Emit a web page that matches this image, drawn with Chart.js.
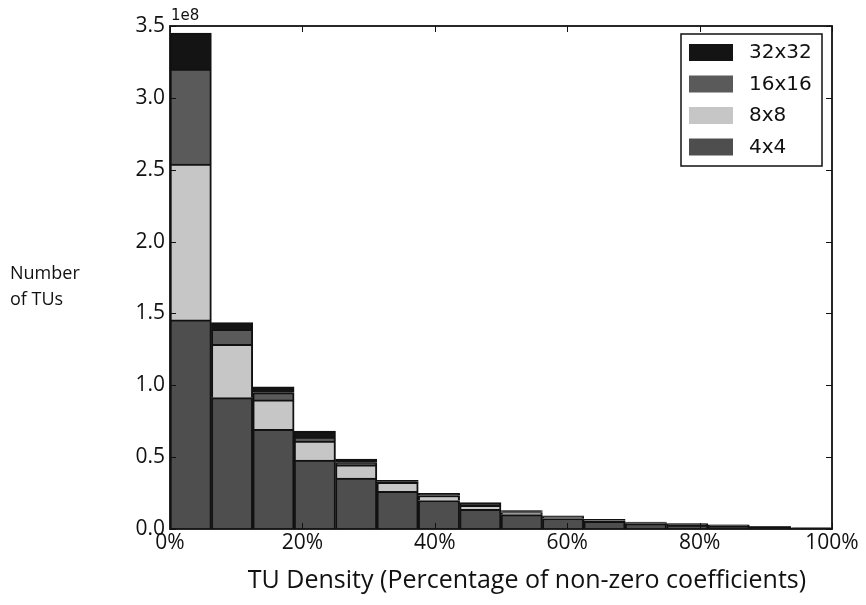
<!DOCTYPE html>
<html>
<head>
<meta charset="utf-8">
<script src="https://cdn.jsdelivr.net/npm/chart.js@4.4.0/dist/chart.umd.min.js"></script>
<style>
  html, body { margin: 0; padding: 0; background: #fff; }
  #wrap { width: 866px; height: 605px; position: relative; }
</style>
</head>
<body>
<div id="wrap"><canvas id="chart"></canvas></div>
<script>
// 16 bins of 6.25% TU density, centres in percent
const binCenters = [3.125, 9.375, 15.625, 21.875, 28.125, 34.375, 40.625, 46.875,
                    53.125, 59.375, 65.625, 71.875, 78.125, 84.375, 90.625, 96.875];

// number of TUs per bin, units of 1e8
const tu4x4   = [1.455, 0.914, 0.694, 0.480, 0.355, 0.262, 0.198, 0.137, 0.100, 0.073, 0.053, 0.037, 0.026, 0.018, 0.011, 0.005];
const tu8x8   = [1.085, 0.371, 0.204, 0.132, 0.092, 0.062, 0.035, 0.028, 0.015, 0.009, 0.006, 0.005, 0.004, 0.004, 0.003, 0.001];
const tu16x16 = [0.660, 0.105, 0.051, 0.026, 0.014, 0.006, 0.008, 0.008, 0.006, 0.004, 0.003, 0.003, 0.003, 0.003, 0.002, 0.001];
const tu32x32 = [0.250, 0.046, 0.041, 0.044, 0.026, 0.008, 0.007, 0.010, 0.007, 0.006, 0.005, 0.004, 0.004, 0.004, 0.003, 0.001];

const xTicks = [0, 20, 40, 60, 80, 100];
const yTicks = [0, 0.5, 1.0, 1.5, 2.0, 2.5, 3.0, 3.5];

const series = [
    { label: '4x4',   values: tu4x4,   color: '#4e4e4e' },
    { label: '8x8',   values: tu8x8,   color: '#c6c6c6' },
    { label: '16x16', values: tu16x16, color: '#5a5a5a' },
    { label: '32x32', values: tu32x32, color: '#141414' }
];

const ink = '#111';

// frame, inward ticks, offset text, axis labels and the boxed legend
const decorations = {
    id: 'decorations',
    afterDraw(chart) {
        const { ctx, chartArea: a, scales: { x, y } } = chart;
        ctx.save();

        ctx.strokeStyle = ink;
        ctx.lineWidth = 1.8;
        ctx.strokeRect(a.left, a.top, a.right - a.left, a.bottom - a.top);

        ctx.lineWidth = 1;
        ctx.beginPath();
        xTicks.forEach(v => {
            const px = Math.round(x.getPixelForValue(v)) + 0.5;
            ctx.moveTo(px, a.bottom); ctx.lineTo(px, a.bottom - 6);
            ctx.moveTo(px, a.top);    ctx.lineTo(px, a.top + 6);
        });
        yTicks.forEach(v => {
            const py = Math.round(y.getPixelForValue(v)) + 0.5;
            ctx.moveTo(a.left, py);  ctx.lineTo(a.left + 6, py);
            ctx.moveTo(a.right, py); ctx.lineTo(a.right - 6, py);
        });
        ctx.stroke();

        ctx.fillStyle = ink;
        ctx.textBaseline = 'alphabetic';
        ctx.font = '15px "DejaVu Sans"';
        ctx.fillText('1e8', a.left + 1, a.top - 6);

        ctx.font = '18px "Open Sans"';
        ctx.fillText('Number', 10, 279);
        ctx.fillText('of TUs', 10, 305);

        // x axis title, sits a little right of the plot centre
        ctx.font = '25px "Open Sans"';
        ctx.textAlign = 'center';
        ctx.textBaseline = 'middle';
        ctx.fillText('TU Density (Percentage of non-zero coefficients)', 527, 581);
        ctx.textAlign = 'left';

        // legend (top entry is the last stacked series)
        const lx = a.right - 151, ly = a.top + 8, lw = 141, lh = 132;
        ctx.fillStyle = '#fff';
        ctx.fillRect(lx, ly, lw, lh);
        ctx.strokeStyle = ink;
        ctx.lineWidth = 1.5;
        ctx.strokeRect(lx, ly, lw, lh);

        ctx.font = '20px "DejaVu Sans"';
        chart.data.datasets.slice().reverse().forEach((ds, i) => {
            const cy = ly + 18 + i * 31.5;
            ctx.fillStyle = ds.backgroundColor;
            ctx.fillRect(lx + 8, cy - 8, 44, 17);
            ctx.fillStyle = ink;
            ctx.fillText(ds.label, lx + 68, cy + 1);
        });

        ctx.restore();
    }
};

new Chart(document.getElementById('chart'), {
    type: 'bar',
    data: {
        datasets: series.map(s => ({
            label: s.label,
            data: s.values.map((v, i) => ({ x: binCenters[i], y: v })),
            backgroundColor: s.color,
            borderColor: ink,
            borderWidth: 2,
            barPercentage: 1,
            categoryPercentage: 1
        }))
    },
    options: {
        responsive: true,
        maintainAspectRatio: false,
        animation: false,
        layout: { padding: { left: 0, top: 26, right: 34, bottom: 0 } },
        plugins: { legend: { display: false }, tooltip: { enabled: false } },
        scales: {
            x: {
                type: 'linear',
                stacked: true,
                offset: false,
                min: 0, max: 100,
                grid: { display: false, drawTicks: false, offset: false },
                border: { display: false },
                afterBuildTicks: s => { s.ticks = xTicks.map(v => ({ value: v })); },
                afterFit: s => { s.height = 76; },
                ticks: {
                    padding: 1,
                    maxRotation: 0,
                    color: ink,
                    font: { family: 'Open Sans', size: 21 },
                    callback: v => v + '%'
                }
            },
            y: {
                stacked: true,
                min: 0, max: 3.5,
                grid: { display: false, drawTicks: false },
                border: { display: false },
                afterBuildTicks: s => { s.ticks = yTicks.map(v => ({ value: v })); },
                afterFit: s => { s.width = 170; },
                ticks: {
                    padding: 5,
                    color: ink,
                    font: { family: 'Open Sans', size: 21 },
                    callback: v => v.toFixed(1)
                }
            }
        }
    },
    plugins: [decorations]
});
</script>
</body>
</html>
